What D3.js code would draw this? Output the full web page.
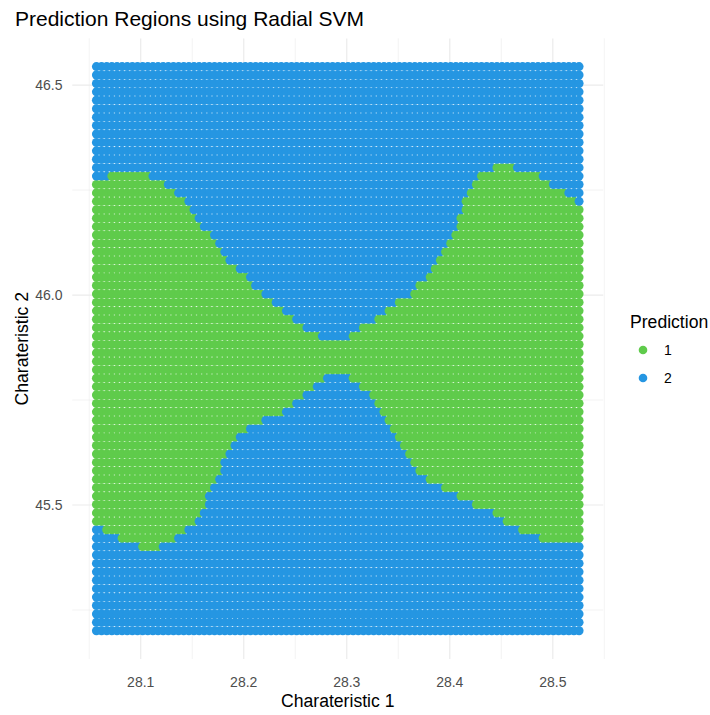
<!DOCTYPE html>
<html>
<head>
<meta charset="utf-8">
<script src="https://cdn.jsdelivr.net/npm/d3@7"></script>
<style>
  body { margin: 0; background: #fff; }
  text { font-family: "Liberation Sans", Arial, sans-serif; }
</style>
</head>
<body>
<svg id="chart" width="710" height="715"></svg>
<script>
// prediction grid (x varies fastest, rows bottom to top)
const xMin = 28.057, xMax = 28.5255, xCount = 95;
const yMin = 45.2005, yMax = 46.5439, yCount = 68;

// per column: highest and lowest grid row predicted as class "1"
const greenTop = [
  53,53,53,54,54,54,54,54,54,54, 54,53,53,53,52,52,51,51,50,49,
  48,47,47,46,45,44,43,43,42,42, 41,40,40,39,39,38,38,37,37,36,
  36,35,35,35,34,34,34,34,34,34, 35,35,36,36,36,37,37,38,38,39,
  39,39,40,41,41,42,43,44,45,46, 47,49,51,52,53,54,54,54,55,55,
  55,55,54,54,54,54,54,53,53,52, 52,52,51,51,50
];
const greenBottom = [
  13,13,12,12,12,11,11,11,11,10, 10,10,10,11,11,11,12,12,13,13,
  14,15,17,18,19,21,22,23,24,24, 25,25,25,26,26,26,26,27,27,28,
  28,29,29,30,30,31,31,31,31,31, 30,30,29,29,28,27,26,25,24,23,
  22,21,20,19,19,18,18,18,17,17, 17,16,16,16,15,15,15,15,14,14,
  13,13,13,12,12,12,12,11,11,11, 11,11,11,11,11
];

const classes = ["1", "2"];
const classColors = ["#5fcb4b", "#2596e2"];

const xTicks = [28.1, 28.2, 28.3, 28.4, 28.5];
const xMinor = [28.05, 28.15, 28.25, 28.35, 28.45, 28.55];
const yTicks = [45.5, 46.0, 46.5];
const yMinor = [45.25, 45.75, 46.25];

const svg = d3.select("#chart");
const panel = { left: 72.3, right: 603.2, top: 38.4, bottom: 659 };

const xPad = (xMax - xMin) * 0.05, yPad = (yMax - yMin) * 0.05;
const x = d3.scaleLinear().domain([xMin - xPad, xMax + xPad]).range([panel.left, panel.right]);
const y = d3.scaleLinear().domain([yMin - yPad, yMax + yPad]).range([panel.bottom, panel.top]);
const color = d3.scaleOrdinal().domain(classes).range(classColors);

svg.append("rect").attr("width", 710).attr("height", 715).attr("fill", "#fff");

// grid lines (theme_minimal)
const grid = svg.append("g");
grid.selectAll(".xminor").data(xMinor).join("line")
  .attr("x1", d => x(d)).attr("x2", d => x(d))
  .attr("y1", panel.top).attr("y2", panel.bottom)
  .attr("stroke", "#ebebeb").attr("stroke-width", 0.6);
grid.selectAll(".yminor").data(yMinor).join("line")
  .attr("y1", d => y(d)).attr("y2", d => y(d))
  .attr("x1", panel.left).attr("x2", panel.right)
  .attr("stroke", "#ebebeb").attr("stroke-width", 0.6);
grid.selectAll(".xmajor").data(xTicks).join("line")
  .attr("x1", d => x(d)).attr("x2", d => x(d))
  .attr("y1", panel.top).attr("y2", panel.bottom)
  .attr("stroke", "#ebebeb").attr("stroke-width", 1.2);
grid.selectAll(".ymajor").data(yTicks).join("line")
  .attr("y1", d => y(d)).attr("y2", d => y(d))
  .attr("x1", panel.left).attr("x2", panel.right)
  .attr("stroke", "#ebebeb").attr("stroke-width", 1.2);

// build points
const xs = d3.range(xCount).map(i => xMin + i * (xMax - xMin) / (xCount - 1));
const ys = d3.range(yCount).map(j => yMin + j * (yMax - yMin) / (yCount - 1));
const points = [];
ys.forEach((yv, j) => {
  xs.forEach((xv, i) => {
    const inGreen = j >= greenBottom[i] && j <= greenTop[i];
    points.push({ x: xv, y: yv, pred: inGreen ? "1" : "2" });
  });
});

svg.append("g").selectAll("circle").data(points).join("circle")
  .attr("cx", d => x(d.x))
  .attr("cy", d => y(d.y))
  .attr("r", 4.5)
  .attr("fill", d => color(d.pred));

// axis tick labels
svg.append("g").selectAll("text").data(xTicks).join("text")
  .attr("x", d => x(d)).attr("y", 687)
  .attr("text-anchor", "middle")
  .attr("font-size", 14).attr("fill", "#4d4d4d")
  .text(d3.format(".1f"));
svg.append("g").selectAll("text").data(yTicks).join("text")
  .attr("x", 62.5).attr("y", d => y(d) + 5)
  .attr("text-anchor", "end")
  .attr("font-size", 14).attr("fill", "#4d4d4d")
  .text(d3.format(".1f"));

// titles
svg.append("text").attr("x", 15).attr("y", 26)
  .attr("font-size", 21).attr("fill", "#000")
  .text("Prediction Regions using Radial SVM");
svg.append("text").attr("x", (panel.left + panel.right) / 2).attr("y", 707)
  .attr("text-anchor", "middle").attr("font-size", 17.6).attr("fill", "#000")
  .text("Charateristic 1");
svg.append("text")
  .attr("transform", `translate(28,${(panel.top + panel.bottom) / 2}) rotate(-90)`)
  .attr("text-anchor", "middle").attr("font-size", 17.6).attr("fill", "#000")
  .text("Charateristic 2");

// legend
const legend = svg.append("g").attr("transform", "translate(630,0)");
legend.append("text").attr("x", 0).attr("y", 328)
  .attr("font-size", 17.6).attr("fill", "#000").text("Prediction");
const keys = legend.selectAll(".key").data(classes).join("g")
  .attr("transform", (d, i) => `translate(0,${350 + i * 28})`);
keys.append("circle").attr("cx", 13).attr("cy", 0).attr("r", 4.3)
  .attr("fill", d => color(d));
keys.append("text").attr("x", 34).attr("y", 5)
  .attr("font-size", 14).attr("fill", "#000").text(d => d);
</script>
</body>
</html>
